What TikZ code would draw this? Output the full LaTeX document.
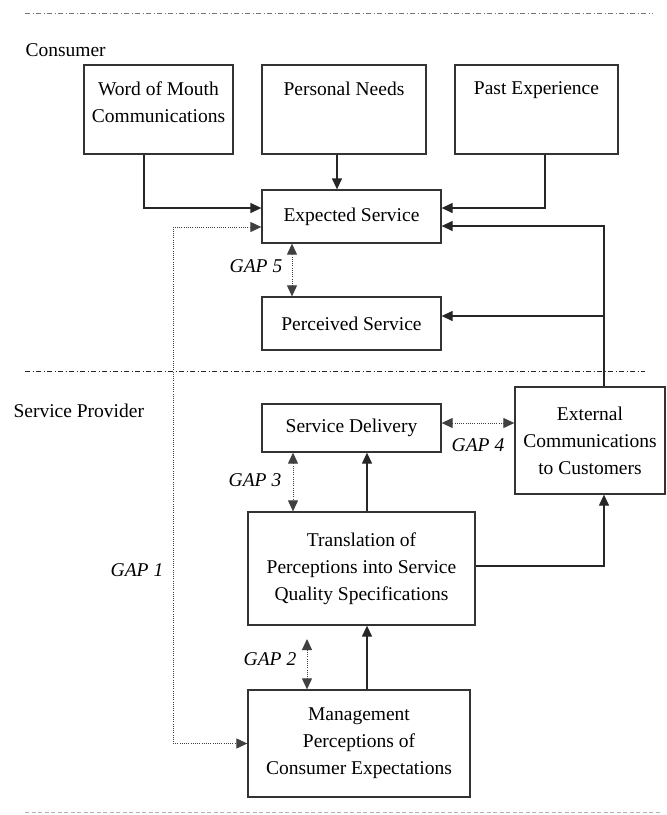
\documentclass[tikz,border=0pt]{standalone}
\usepackage{fontspec}
\setmainfont{Liberation Serif}
\usetikzlibrary{arrows.meta,positioning}

\begin{document}
\begin{tikzpicture}[x=1pt,y=-1pt,
  font=\fontsize{19.5}{27}\selectfont,
  box/.style={draw=black!80,line width=1.3pt,inner sep=0pt,align=center},
  boxtext/.style={inner sep=0pt,align=center},
  conn/.style={draw=black!85,line width=1.3pt,-{Triangle[length=11pt,width=10pt]}},
  gapline/.style={draw=black!75,line width=1pt,dash pattern=on 1pt off 1.2pt,
    {Triangle[length=11pt,width=10pt]}-{Triangle[length=11pt,width=10pt]}},
  gaplabel/.style={font=\fontsize{19.5}{27}\selectfont\itshape},
  divider/.style={line width=0.9pt,dash pattern=on 5pt off 2.5pt on 1pt off 2.5pt}]
\useasboundingbox (0,0) rectangle (667,815);

\draw [divider,black!55] (25,13) -- (653,13);
\draw [divider,black!85] (25,371) -- (645,371);
\draw [line width=0.9pt,black!30,dash pattern=on 4pt off 2.5pt] (25,812) -- (660,812);

\node [anchor=base west] (consumer) at (22,56) {Consumer};
\node [anchor=base west] (provider) at (10,417) {Service Provider};

\node [box,minimum width=149pt,minimum height=89pt] (wom) at (158.5,109.5) {};
\node [box,minimum width=164pt,minimum height=89pt] (needs) at (344,109.5) {};
\node [box,minimum width=163pt,minimum height=89pt] (past) at (536.5,109.5) {};
\node [boxtext,below=17pt of wom.north] (womtext) {Word of Mouth\\Communications};
\node [boxtext,below=17pt of needs.north] (needstext) {Personal Needs};
\node [boxtext,below=17pt of past.north] (pasttext) {Past Experience};

\node [box,minimum width=179pt,minimum height=53pt] (exp) at (351.5,216.5) {Expected Service};
\node [box,minimum width=179pt,minimum height=53pt] (perc) at (351.5,323.5) {Perceived Service};
\node [box,minimum width=179pt,minimum height=48pt] (deliv) at (351.5,428) {Service Delivery};
\node [box,minimum width=150pt,minimum height=107pt] (ext) at (590,440.5) {External\\Communications\\to Customers};
\node [box,minimum width=227pt,minimum height=113pt] (trans) at (361.5,568.5) {Translation of\\Perceptions into Service\\Quality Specifications};
\node [box,minimum width=222pt,minimum height=107pt] (mgmt) at (359,743.5) {Management\\Perceptions of\\Consumer Expectations};

\coordinate (womdrop) at (144,208);
\coordinate (needsdrop) at (337,0);
\coordinate (pastdrop) at (545,208);
\coordinate (extrise) at (604,226);
\coordinate (percin) at (604,316);
\coordinate (transup) at (367,0);
\coordinate (transout) at (604,566);
\coordinate (gapone) at (173,227);
\coordinate (gaptwo) at (307,639);
\coordinate (gapthree) at (293,0);
\coordinate (gapfour) at (0,423);
\coordinate (gapfive) at (292,0);

\draw [conn] (womdrop |- wom.south) -- (womdrop) -- (womdrop -| exp.west);
\draw [conn] (needsdrop |- needs.south) -- (needsdrop |- exp.north);
\draw [conn] (pastdrop |- past.south) -- (pastdrop) -- (pastdrop -| exp.east);
\draw [conn] (extrise |- ext.north) -- (extrise) -- (extrise -| exp.east);
\draw [conn] (percin) -- (percin -| perc.east);
\draw [conn] (transup |- trans.north) -- (transup |- deliv.south);
\draw [conn] (transup |- mgmt.north) -- (transup |- trans.south);
\draw [conn] (transout -| trans.east) -- (transout) -- (transout |- ext.south);

\draw [gapline] (gapone -| exp.west) -- (gapone) -- (gapone |- mgmt.west) -- (mgmt.west);
\draw [gapline] (gaptwo) -- (gaptwo |- mgmt.north);
\draw [gapline] (gapthree |- deliv.south) -- (gapthree |- trans.north);
\draw [gapline] (gapfour -| deliv.east) -- (gapfour -| ext.west);
\draw [gapline] (gapfive |- exp.south) -- (gapfive |- perc.north);

\node [gaplabel] (gaponetext) at (137,570) {GAP 1};
\node [gaplabel] (gaptwotext) at (270,659) {GAP 2};
\node [gaplabel] (gapthreetext) at (255,480) {GAP 3};
\node [gaplabel] (gapfourtext) at (478,445) {GAP 4};
\node [gaplabel] (gapfivetext) at (256,266) {GAP 5};
\end{tikzpicture}
\end{document}
